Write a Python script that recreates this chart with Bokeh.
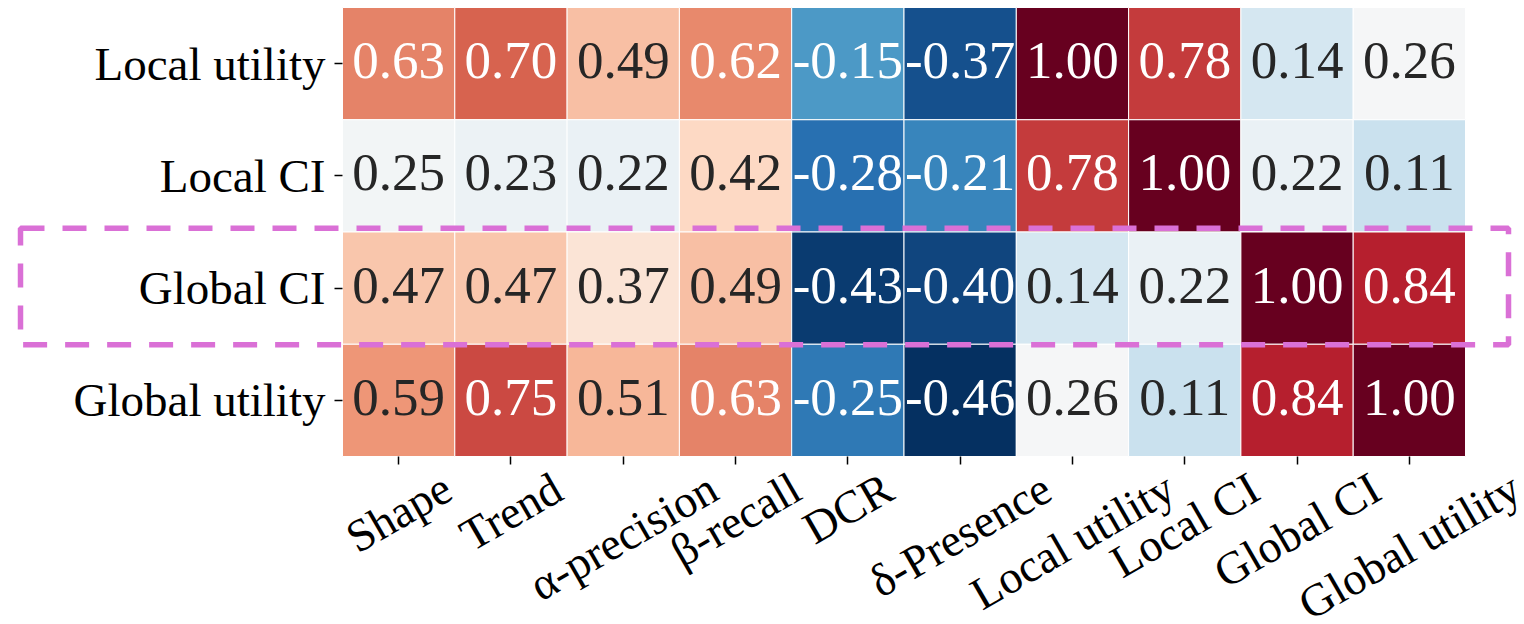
import numpy as np
from math import pi, cos, sin
from bokeh.plotting import figure
from bokeh.models import (ColumnDataSource, BoxAnnotation, LinearColorMapper, Range1d,
                          FixedTicker, LinearAxis)
from bokeh.transform import transform
from bokeh.core.properties import value
from bokeh.embed import file_html
from bokeh.resources import INLINE

# ---------------- data ----------------
columns = ["Shape", "Trend", "α-precision", "β-recall", "DCR", "δ-Presence",
           "Local utility", "Local CI", "Global CI", "Global utility"]
rows = ["Local utility", "Local CI", "Global CI", "Global utility"]

local_utility = [0.63, 0.70, 0.49, 0.62, -0.15, -0.37, 1.00, 0.78, 0.14, 0.26]
local_ci = [0.25, 0.23, 0.22, 0.42, -0.28, -0.21, 0.78, 1.00, 0.22, 0.11]
global_ci = [0.47, 0.47, 0.37, 0.49, -0.43, -0.40, 0.14, 0.22, 1.00, 0.84]
global_utility = [0.59, 0.75, 0.51, 0.63, -0.25, -0.46, 0.26, 0.11, 0.84, 1.00]
highlight_row = "Global CI"

row_values = [local_utility, local_ci, global_ci, global_utility]

# ---------------- colour map (RdBu reversed) ----------------
rdbu = ["#67001f", "#b2182b", "#d6604d", "#f4a582", "#fddbc7", "#f7f7f7",
        "#d1e5f0", "#92c5de", "#4393c3", "#2166ac", "#053061"]
anchors = np.array([[int(c[i:i + 2], 16) / 255 for i in (1, 3, 5)] for c in rdbu[::-1]])
pos = np.linspace(0, 1, len(anchors))
t = np.linspace(0, 1, 256)
rgb = np.stack([np.interp(t, pos, anchors[:, k]) for k in range(3)], axis=1)
palette = ["#%02x%02x%02x" % tuple(int(round(v * 255)) for v in c) for c in rgb]

all_vals = [v for r in row_values for v in r]
vmin, vmax = min(all_vals), max(all_vals)
mapper = LinearColorMapper(palette=palette, low=vmin, high=vmax)


def text_color(v):
    idx = int((v - vmin) / (vmax - vmin) * 256)
    idx = min(max(idx, 0), 255)
    c = rgb[idx]
    lin = np.where(c <= 0.03928, c / 12.92, ((c + 0.055) / 1.055) ** 2.4)
    lum = 0.2126 * lin[0] + 0.7152 * lin[1] + 0.0722 * lin[2]
    return "#262626" if lum > 0.408 else "#ffffff"


# ---------------- geometry (pixels) ----------------
W, H = 1524, 624
X0, X1 = 342, 1465          # heatmap left / right
Y0, Y1 = 7, 456             # heatmap top / bottom
ncol, nrow = len(columns), len(rows)
cw = (X1 - X0) / ncol
ch = (Y1 - Y0) / nrow

x_range = Range1d(-X0 / cw, ncol + (W - X1) / cw)
y_range = Range1d(-(H - Y1) / ch, nrow + Y0 / ch)

FONT = "Liberation Serif"
CELL_FS = 53
LAB_FS = 47
XLAB_FS = 46

xs, ys, ty, vals, labels, tcols = [], [], [], [], [], []
for ri, (rname, rv) in enumerate(zip(rows, row_values)):
    for ci, v in enumerate(rv):
        xs.append(ci + 0.5)
        ys.append(nrow - ri - 0.5)
        ty.append(nrow - ri - 0.5 + 3 / ch)   # small optical lift of the numbers
        vals.append(v)
        labels.append(f"{v:.2f}")
        tcols.append(text_color(v))
src = ColumnDataSource(dict(x=xs, y=ys, ty=ty, v=vals, label=labels, tc=tcols))

p = figure(x_range=x_range, y_range=y_range, width=W, height=H,
           min_border=0, output_backend="svg", toolbar_location=None, tools="",
           x_axis_type=None, y_axis_type=None)
p.outline_line_color = None
p.background_fill_color = "white"
p.border_fill_color = "white"
p.grid.visible = False

p.rect(x="x", y="y", width=1, height=1, source=src,
       fill_color=transform("v", mapper), line_color="white", line_width=1)
p.text(x="x", y="ty", text="label", source=src, text_color="tc",
       text_align="center", text_baseline="middle",
       text_font=value(FONT), text_font_size=f"{CELL_FS}px")

# ---------------- axes ----------------
yaxis = LinearAxis(fixed_location=0,
                   ticker=FixedTicker(ticks=[nrow - i - 0.5 for i in range(nrow)]),
                   major_label_overrides={nrow - i - 0.5: r for i, r in enumerate(rows)})
xaxis = LinearAxis(fixed_location=0,
                   ticker=FixedTicker(ticks=[i + 0.5 for i in range(ncol)]),
                   major_label_overrides={i + 0.5: "" for i in range(ncol)})
for ax in (xaxis, yaxis):
    ax.axis_line_color = None
    ax.major_tick_in = 0
    ax.major_tick_out = 8
    ax.major_tick_line_width = 1.5
    ax.major_tick_line_color = "black"
    ax.minor_tick_line_color = None
    ax.major_label_text_font = FONT
    ax.major_label_text_color = "black"
    ax.major_label_text_font_size = f"{LAB_FS}px"
    ax.major_label_standoff = 9
p.add_layout(yaxis, "left")
p.add_layout(xaxis, "below")

# rotated, centred x tick labels (centre of the rotated box sits under each tick)
em = {"S": .556, "h": .5, "a": .444, "p": .5, "e": .444, "T": .611, "r": .333, "n": .5,
      "d": .5, "α": .53, "-": .333, "c": .444, "i": .278, "s": .389, "o": .5, "β": .5,
      "l": .278, "D": .722, "C": .667, "R": .667, "δ": .5, "P": .556, "L": .611, "u": .5,
      "t": .278, "y": .5, " ": .25, "I": .333, "G": .722, "b": .5}
ang = pi / 6
lx, ly = [], []
for i, name in enumerate(columns):
    w = sum(em.get(c, .5) for c in name) * XLAB_FS
    h = 0.9 * XLAB_FS
    half_v = (w * sin(ang) + h * cos(ang)) / 2
    cy_px = 10 + half_v
    lx.append(i + 0.5)
    ly.append(-cy_px / ch)
p.text(x=lx, y=ly, text=columns, angle=ang, text_align="center", text_baseline="middle",
       text_font=value(FONT), text_font_size=f"{XLAB_FS}px", text_color="black")

# highlight box around the Global CI row
hi = nrow - rows.index(highlight_row) - 1
box = BoxAnnotation(left=(20 - X0) / cw, right=ncol + (1508 - X1) / cw,
                    bottom=hi - 0.005, top=hi + 1 + 0.034,
                    fill_alpha=0, fill_color=None, line_alpha=1.0,
                    line_color="#da70d6", line_width=5.5, line_dash="24 18")
p.add_layout(box)

open("out.html", "w").write(file_html(p, INLINE))
